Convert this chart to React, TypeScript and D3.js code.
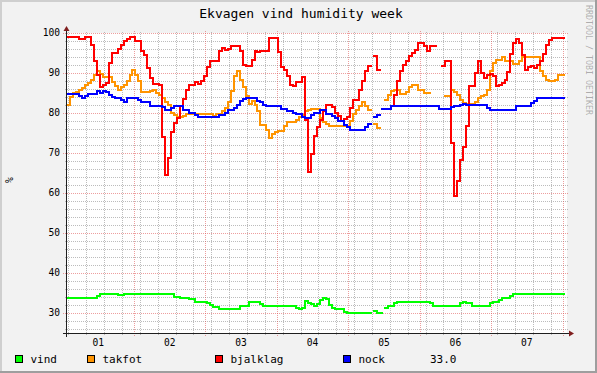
import React from 'react';
import * as d3 from 'd3';

// one value per hour, starting 01 01:30 (UTC), null = no data
const vind = [
  33.8, 33.8, 33.8, 33.8, 33.8, 33.8, 33.8, 33.8, 33.8, 33.8, 34.3, 34.8, 34.8, 34.8, 34.8, 34.8, 34.8, 34.5, 34.5, 34.8, 34.8, 34.8, 34.8, 34.8,
  34.8, 34.8, 34.8, 34.8, 34.8, 34.8, 34.8, 34.8, 34.8, 34.8, 34.8, 34.8, 34.1, 34.1, 33.8, 33.8, 33.8, 33.5, 33.5, 32.8, 32.8, 32.8, 32.8, 32.4,
  32, 31.6, 31.6, 30.9, 30.9, 30.9, 30.9, 30.9, 30.9, 30.9, 31.8, 31.8, 31.8, 32.8, 32.8, 32.8, 32.8, 32.2, 31.8, 31.8, 31.8, 31.8, 31.8, 31.8,
  31.8, 31.8, 31.8, 31.8, 31.8, 31.3, 30.9, 31.3, 33.1, 32.4, 32.2, 31.8, 32.2, 33.2, 33.8, 33.5, 32, 31.3, 30.9, 30.9, 30.9, 30.3, 29.9, 29.9,
  29.9, 29.9, 29.9, 29.9, 29.9, 29.9, null, 30.6, 30, 30, null, 31.2, 31.8, 31.8, 32.4, 32.8, 32.8, 32.8, 32.8, 32.8, 32.8, 32.8, 32.8, 32.8,
  32.8, 32.8, 32.4, 31.8, 31.8, 31.8, 31.8, 31.8, 31.8, 31.8, 31.8, 31.8, 32.4, 32.8, 32.4, 32.4, 31.8, 31.8, 31.8, 31.8, 31.8, 31.8, 32.4, 32.8,
  32.8, 33.2, 33.8, 33.8, 33.8, 34.3, 34.8, 34.8, 34.8, 34.8, 34.8, 34.8, 34.8, 34.8, 34.8, 34.8, 34.8, 34.8, 34.8, 34.8, 34.8, 34.8, 34.8,
];
const takfot = [
  82, 84, 85, 85.2, 85.8, 86.2, 86.9, 87.5, 88.3, 89.6, 90.4, 89.7, 88.9, 88.9, 88.9, 87.8, 86.7, 85.8, 86.4, 86.9, 87.9, 89.6, 90.8, 89.6,
  87.9, 85.2, 85.2, 85.2, 85.4, 85.8, 85, 84.6, 83.8, 82.8, 82.1, 80, 79.4, 78.9, 78.9, 79.2, 79.8, 79.8, 79.8, 79.8, 79.8, 79.8, 79.8, 79.8,
  79.8, 79.2, 79.8, 79.8, 80.4, 81.2, 82.8, 85.4, 89.2, 90.6, 88.3, 86.4, 84.2, 82.2, 82.9, 82.1, 80.4, 77.1, 77.1, 75.8, 73.8, 74.8, 75.2, 75.6,
  75.6, 76.7, 77.8, 77.8, 77.8, 78.3, 78.9, 79.4, 80.4, 80.8, 81.1, 81.1, 81.1, 78.8, 77.8, 77.2, 76.8, 76.8, 76.8, 76.8, 76.8, 76.8, 76.8, 77.9,
  79.8, 80.8, 81.7, 82.8, 81.7, 80.7, null, 77.2, 76.2, null, null, 83.3, 84.6, 85.6, 85.8, 85.8, 84.8, 84.8, 85.2, 86.4, 86.9, 86.9, 85.8, 85.8,
  85, 85, null, null, null, null, null, 84.2, 84.2, 85.8, 85.2, 84.6, 83.3, 82.5, 82.2, 82.2, 82.2, 82.8, 83.8, 84.2, 84.6, 85.8, 90.4, 92.5,
  93.3, 93.3, 93.9, 92.9, 92.9, 92.9, 92.2, 92.2, 92.9, 93.9, 93.9, 93.9, 93.9, 93.9, 93.9, 90.6, 89.2, 88.3, 87.9, 87.9, 88.3, 89.4, 89.4,
];
const bjalklag = [
  99, 99, 99, 99, 98.5, 98.5, 99, 99, 97, 93, 89.5, 86.5, 87, 87.5, 92.5, 95, 95, 96, 97, 98, 98.5, 99, 99, 98,
  98, 95.5, 94.5, 91.2, 88.8, 87.2, 87.2, 87, 74, 64.5, 68.8, 75.2, 77.5, 78.8, 81.7, 83.6, 85.8, 87, 87, 87.8, 87.2, 88, 89.2, 91.4,
  93, 93, 93, 95.4, 96.2, 95.8, 96.1, 96.7, 96.7, 96.7, 95.6, 91.9, 91.7, 91.7, 93.3, 95.4, 95.2, 95.4, 95.4, 95.6, 98.8, 98.8, 98.8, 95.2,
  91.4, 90.8, 89.2, 87.1, 86.8, 87.8, 87.8, 89, 78.3, 65.2, 69.8, 74.2, 76.4, 78.3, 80.6, 81.9, 81.9, 81.4, 80, 79.2, 77.9, 78.6, 78.9, 81.2,
  83.3, 83.3, 85.8, 87.9, 90.4, 91.8, null, 94.2, 90.8, null, 81.1, 81.1, 81.1, 81.7, 84.6, 87.9, 90.4, 91.9, 92.9, 94.2, 95, 95.8, 97.5, 97.5,
  96.7, 95.6, 96.8, 96.8, null, null, 91.7, 92.9, 92.9, 72.5, 59.2, 63.1, 68.3, 71.4, 76.7, 86.7, 86.7, 90, 92.9, 90, 88.8, 89.6, 89.8, 89.2,
  86.7, 87.1, 87.5, 88.3, 90.2, 94.8, 97.5, 98.6, 97.5, 94.4, 90.8, 91.4, 91.7, 91.2, 91.9, 92.9, 94.8, 96.9, 98.3, 98.8, 98.8, 98.8, 98.8,
];
const nock = [
  84.8, 84.8, 84.8, 84.8, 84.2, 83.8, 84.2, 84.8, 84.8, 84.8, 85.6, 85, 85.6, 85.3, 84.6, 83.9, 83.8, 83.8, 83.3, 82.8, 83.8, 83.8, 83.8, 83.8,
  83.3, 82.8, 82.8, 82.8, 81.8, 81.8, 81.8, 81.8, 81.6, 80.8, 80.8, 81.2, 81.8, 81.8, 81.8, 80.8, 80.8, 80, 80, 79.6, 78.9, 78.9, 78.9, 78.9,
  78.9, 78.9, 78.9, 79.6, 79.6, 80, 80.8, 80.8, 81.2, 81.9, 82.9, 83.6, 83.8, 83.8, 83.8, 83.8, 83.1, 82.8, 82.1, 81.8, 81.8, 81.8, 81.8, 81.8,
  81.1, 81.1, 80.6, 80.6, 80, 79.8, 79.8, 78.9, 78.8, 78.8, 79.4, 80, 80, 80.8, 80.8, 79.8, 79.8, 79.2, 78.8, 77.9, 77.9, 77.1, 76.4, 75.8,
  75.8, 75.8, 75.8, 75.8, 76.4, 77.2, null, 78.9, 79.6, null, 81, 81, 81, 81.8, 81.8, 81.8, 81.8, 81.8, 81.8, 81.8, 81.8, 81.8, 81.8, 81.8,
  81.8, 81.8, 81.8, 81.8, 81.8, 81, 81, 81, 81, 81.4, 81.8, 81.8, 82.1, 82.3, 81.9, 81.9, 81.9, 81.9, 81.9, 81.9, 81.9, 81.2, 80.8, 80.8,
  80.8, 80.8, 80.8, 80.8, 80.8, 80.8, 80.8, 81.8, 81.8, 81.8, 81.8, 81.8, 82.5, 82.9, 83.8, 83.8, 83.8, 83.8, 83.8, 83.8, 83.8, 83.8, 83.8,
];

const seriesNames = ['vind', 'takfot', 'bjalklag', 'nock'];
const seriesColors = ['#00ff00', '#ff9400', '#ff0000', '#0000ff'];
const seriesData = [vind, takfot, bjalklag, nock];
const lastValue = '33.0';

const yTicks = [30, 40, 50, 60, 70, 80, 90, 100];
const dayLabels = ['01', '02', '03', '04', '05', '06', '07'];

const HOUR = 3600 * 1000;
const start = Date.UTC(2021, 5, 1, 1, 30);
const end = start + 168 * HOUR;

const W = 597;
const H = 373;
const X0 = 67, X1 = 567, Y0 = 333, Y1 = 33;
const FONT = '"DejaVu Sans Mono", monospace';

export default function App() {
  const x = d3.scaleUtc().domain([start, end]).range([X0, X1]);
  const y = d3.scaleLinear().domain([25, 100]).range([Y0, Y1]);
  const px = (v: number) => Math.round(v) + 0.5;

  // grid
  const minorT = d3.utcHours(new Date(start), new Date(end), 6).filter(d => d.getUTCHours() !== 0);
  const majorT = d3.utcDays(new Date(start), new Date(end));
  const minorV = d3.range(26, 100, 2).filter(v => v % 10 !== 0);

  const line = d3.line<[number, number] | null>()
    .defined(d => d !== null)
    .x(d => Math.round(x(d![0])))
    .y(d => Math.round(y(d![1])));

  const stepPoints = (vals: (number | null)[]) =>
    vals.flatMap((v, k): ([number, number] | null)[] =>
      v == null ? [null] : [[start + k * HOUR, v], [start + (k + 1) * HOUR, v]]);

  return (
    <svg width={W} height={H} style={{ position: 'absolute', left: 0, top: 0, display: 'block' }}
      fontFamily={FONT}>
      <rect x={0} y={0} width={W} height={H} fill="#f2f2f2" />
      {/* shade */}
      <path d={`M0,${H}V0H${W}`} fill="none" stroke="#cfcfcf" strokeWidth={2} transform="translate(1,1)" />
      <path d={`M0,${H - 1}H${W - 1}V0`} fill="none" stroke="#9e9e9e" strokeWidth={2} />
      <rect x={X0} y={Y1} width={X1 - X0} height={Y0 - Y1} fill="#ffffff" />

      <g shapeRendering="crispEdges" strokeWidth={1} strokeDasharray="1,1">
        {minorV.map(v => (
          <line key={'hv' + v} x1={X0 - 2} x2={X1 + 2} y1={px(y(v))} y2={px(y(v))} stroke="rgba(143,143,143,0.6)" />
        ))}
        {minorT.map(t => (
          <line key={'vv' + +t} x1={px(x(t))} x2={px(x(t))} y1={Y0 + 2} y2={Y1 - 2} stroke="rgba(143,143,143,0.6)" />
        ))}
        {yTicks.map(v => (
          <line key={'hm' + v} x1={X0 - 4} x2={X1 + 2} y1={px(y(v))} y2={px(y(v))} stroke="rgba(222,79,79,0.55)" />
        ))}
        {majorT.map(t => (
          <line key={'vm' + +t} x1={px(x(t))} x2={px(x(t))} y1={Y0 + 3} y2={Y1 - 2} stroke="rgba(222,79,79,0.55)" />
        ))}
      </g>

      {seriesData.map((vals, i) => (
        <path key={seriesNames[i]} d={line(stepPoints(vals)) || ''} fill="none"
          stroke={seriesColors[i]} strokeWidth={2} strokeLinejoin="miter" strokeLinecap="square" />
      ))}

      {/* axes */}
      <g shapeRendering="crispEdges" stroke="#1f1f1f" strokeWidth={1}>
        <line x1={X0 - 4} x2={X1 + 4} y1={Y0 + 0.5} y2={Y0 + 0.5} />
        <line x1={X0 - 0.5} x2={X0 - 0.5} y1={Y0 + 4} y2={Y1 - 4} />
      </g>
      <path d={`M${X1 + 2},${Y0 - 2.5}L${X1 + 7},${Y0 + 0.5}L${X1 + 2},${Y0 + 3.5}Z`} fill="#801f1f" />
      <path d={`M${X0 - 3.5},${Y1 - 2}L${X0 - 0.5},${Y1 - 7}L${X0 + 2.5},${Y1 - 2}Z`} fill="#801f1f" />

      {yTicks.map(v => (
        <text key={'yl' + v} x={60} y={y(v)} dy="0.35em" textAnchor="end" fontSize={9.6} fill="#000">{v}</text>
      ))}
      {dayLabels.map((lab, i) => (
        <text key={'xl' + lab} x={x(Date.UTC(2021, 5, i + 1, 12))} y={345.5} textAnchor="middle"
          fontSize={9.6} fill="#000">{lab}</text>
      ))}

      <text x={301} y={18} textAnchor="middle" fontSize={13} fill="#000">Ekvagen vind humidity week</text>
      <text transform="translate(10,180) rotate(-90)" textAnchor="middle" dy="0.35em" fontSize={9.6} fill="#000">%</text>
      <text transform="translate(588.5,60) rotate(90)" textAnchor="middle" dy="0.35em" fontSize={8.3}
        fill="#000" fillOpacity={0.3}>RRDTOOL / TOBI OETIKER</text>

      {/* legend */}
      {seriesNames.map((name, i) => {
        const bx = [15.5, 87.5, 215.5, 343.5][i];
        return (
          <g key={'lg' + name}>
            <rect x={bx} y={355.5} width={7} height={7} fill={seriesColors[i]} stroke="#000" strokeWidth={1}
              shapeRendering="crispEdges" />
            <text x={bx + 15} y={363} fontSize={11} fill="#000">{name}</text>
          </g>
        );
      })}
      <text x={430} y={363} fontSize={11} fill="#000">{lastValue}</text>
    </svg>
  );
}
